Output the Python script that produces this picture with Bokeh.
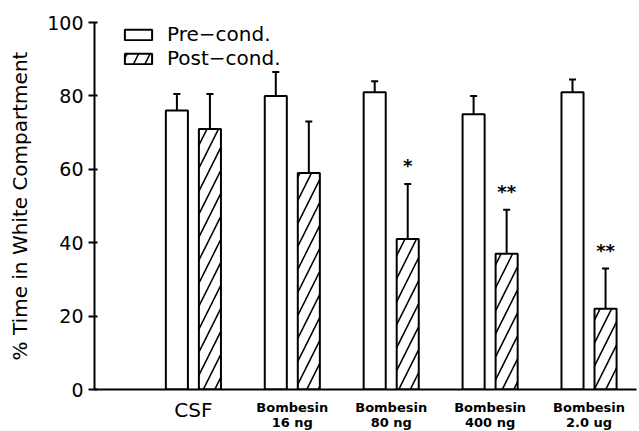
from bokeh.plotting import figure
from bokeh.models import (ColumnDataSource, Whisker, TeeHead, Legend, LegendItem, Range1d,
                          FixedTicker, LinearAxis)
from bokeh.core.properties import value
from bokeh.embed import file_html
from bokeh.resources import INLINE

groups = ["CSF", "Bombesin\n16 ng", "Bombesin\n80 ng", "Bombesin\n400 ng", "Bombesin\n2.0 ug"]
pre = [76, 80, 81, 75, 81]
pre_err = [4.5, 6.5, 3.0, 5.0, 3.5]
post = [71, 59, 41, 37, 22]
post_err = [9.5, 14, 15, 12, 11]
sig = ["", "", "*", "**", "**"]
y_ticks = [0, 20, 40, 60, 80, 100]

FONT = "DejaVu Sans"
off = 0.167
bw = 0.223
idx = list(range(1, len(groups) + 1))

pre_src = ColumnDataSource(dict(
    x=[i - off for i in idx], top=pre,
    lo=[m - e for m, e in zip(pre, pre_err)], hi=[m + e for m, e in zip(pre, pre_err)]))
post_src = ColumnDataSource(dict(
    x=[i + off for i in idx], top=post,
    lo=[m - e for m, e in zip(post, post_err)], hi=[m + e for m, e in zip(post, post_err)]))

p = figure(frame_width=542, frame_height=367, output_backend="svg", toolbar_location=None,
           x_range=Range1d(0, 5.48), y_range=Range1d(0, 100),
           min_border_left=94, min_border_right=3, min_border_top=22, min_border_bottom=10)
p.outline_line_color = None
p.xgrid.grid_line_color = None
p.ygrid.grid_line_color = None

r_pre = p.vbar(x="x", top="top", width=bw, source=pre_src, fill_color="white",
               line_color="black", line_width=2)
r_post = p.vbar(x="x", top="top", width=bw, source=post_src, fill_color="white",
                line_color="black", line_width=2, hatch_pattern="/", hatch_scale=23,
                hatch_weight=1.6, hatch_color="black")

for src in (pre_src, post_src):
    w = Whisker(base="x", lower="lo", upper="hi", source=src, line_width=2, line_color="black",
                upper_head=TeeHead(size=7, line_width=2, line_color="black"),
                lower_head=TeeHead(size=7, line_width=2, line_color="black"))
    p.add_layout(w)

sx = [i + off for i, s in zip(idx, sig) if s]
sy = [m + e + 5 for m, e, s in zip(post, post_err, sig) if s]
st = [s for s in sig if s]
p.text(x=sx, y=sy, text=st, text_align="center", text_baseline="middle",
       text_font=value(FONT), text_font_size="18px", text_font_style="bold", text_color="black")

# y axis
ya = p.yaxis[0]
ya.ticker = FixedTicker(ticks=y_ticks)
ya.minor_tick_line_color = None
ya.major_tick_in = 3
ya.major_tick_out = 6
ya.major_tick_line_width = 2
ya.axis_line_width = 2
ya.major_label_text_font = FONT
ya.major_label_text_font_size = "19px"
ya.major_label_text_color = "black"
ya.major_label_standoff = 5
ya.axis_label = "% Time in White Compartment"
ya.axis_label_text_font = FONT
ya.axis_label_text_font_size = "20px"
ya.axis_label_text_font_style = "normal"
ya.axis_label_text_color = "black"
ya.axis_label_standoff = 12

# x axis: Bombesin groups (two-line bold labels)
bomb_idx = [i for i, g in zip(idx, groups) if "\n" in g]
xa = p.xaxis[0]
xa.ticker = FixedTicker(ticks=bomb_idx)
xa.major_label_overrides = {i: g for i, g in zip(idx, groups) if "\n" in g}
xa.major_tick_line_color = None
xa.major_tick_in = 0
xa.major_tick_out = 0
xa.minor_tick_line_color = None
xa.axis_line_width = 2
xa.major_label_text_font = FONT
xa.major_label_text_font_size = "13px"
xa.major_label_text_font_style = "bold"
xa.major_label_text_color = "black"
xa.major_label_text_line_height = 1.0
xa.major_label_standoff = 10

# second x axis: CSF label (larger, normal weight)
csf_idx = [i for i, g in zip(idx, groups) if "\n" not in g]
xa2 = LinearAxis(ticker=FixedTicker(ticks=csf_idx),
                 major_label_overrides={i: g for i, g in zip(idx, groups) if "\n" not in g},
                 axis_line_color=None, major_tick_line_color=None, minor_tick_line_color=None,
                 major_tick_in=0, major_tick_out=0,
                 major_label_text_font=FONT, major_label_text_font_size="20px",
                 major_label_text_color="black", major_label_standoff=-35)
p.add_layout(xa2, "below")

legend = Legend(items=[LegendItem(label="Pre\u2212cond.", renderers=[r_pre]),
                       LegendItem(label="Post\u2212cond.", renderers=[r_post])],
                location="top_left", margin=0, padding=4, spacing=0,
                glyph_width=34, glyph_height=13, label_standoff=12,
                label_text_font=FONT, label_text_font_size="20px", label_text_color="black",
                border_line_color=None, background_fill_alpha=0)
legend.location = (27, 367 - 4 - 42 - 2)
p.add_layout(legend)

open("out.html", "w").write(file_html(p, INLINE))
